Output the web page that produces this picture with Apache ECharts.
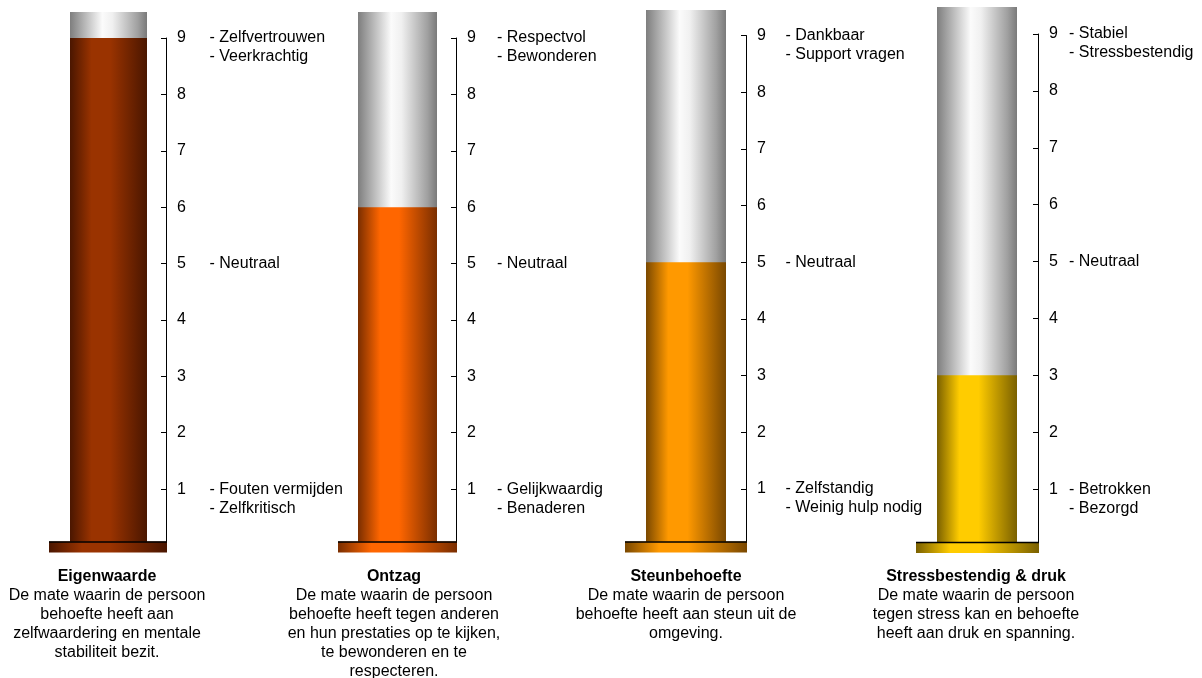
<!DOCTYPE html>
<html>
<head>
<meta charset="utf-8">
<script src="https://cdn.jsdelivr.net/npm/echarts@6/dist/echarts.min.js"></script>
<style>
html,body{margin:0;padding:0;background:#fff;}
#chart{width:1202px;height:678px;}
</style>
</head>
<body>
<div id="chart"></div>
<script>
// ---- data ----
const categories = ['Eigenwaarde', 'Ontzag', 'Steunbehoefte', 'Stressbestendig & druk'];
const scores = [9, 6, 5, 3];
const scaleMin = 0;
const scaleMax = 9;
const labelTicks = [9, 5, 1];
const highLabels = [
  ['Zelfvertrouwen', 'Veerkrachtig'],
  ['Respectvol', 'Bewonderen'],
  ['Dankbaar', 'Support vragen'],
  ['Stabiel', 'Stressbestendig']
];
const midLabels = [['Neutraal'], ['Neutraal'], ['Neutraal'], ['Neutraal']];
const lowLabels = [
  ['Fouten vermijden', 'Zelfkritisch'],
  ['Gelijkwaardig', 'Benaderen'],
  ['Zelfstandig', 'Weinig hulp nodig'],
  ['Betrokken', 'Bezorgd']
];
const descriptions = [
  ['De mate waarin de persoon', 'behoefte heeft aan', 'zelfwaardering en mentale', 'stabiliteit bezit.'],
  ['De mate waarin de persoon', 'behoefte heeft tegen anderen', 'en hun prestaties op te kijken,', 'te bewonderen en te', 'respecteren.'],
  ['De mate waarin de persoon', 'behoefte heeft aan steun uit de', 'omgeving.'],
  ['De mate waarin de persoon', 'tegen stress kan en behoefte', 'heeft aan druk en spanning.']
];

// ---- styling / layout ----
const FONT = "'Liberation Sans', Arial, sans-serif";
const palette = [
  { bright: '#9a3300', dark: '#4a1600' },
  { bright: '#ff6600', dark: '#7a2e00' },
  { bright: '#ff9900', dark: '#7a4800' },
  { bright: '#ffcc00', dark: '#7a6000' }
];
const layout = [
  { tubeL: 70,  tubeW: 77, tubeTop: 12, axisX: 166,  y9: 38,   zeroY: 545.5, baseL: 49,  baseR: 167,  labelX: 209.5, textCX: 107 },
  { tubeL: 358, tubeW: 79, tubeTop: 12, axisX: 456,  y9: 38,   zeroY: 545.5, baseL: 338, baseR: 457,  labelX: 497,   textCX: 394 },
  { tubeL: 646, tubeW: 80, tubeTop: 10, axisX: 746,  y9: 35.5, zeroY: 545.5, baseL: 625, baseR: 747,  labelX: 785.5, textCX: 686 },
  { tubeL: 937, tubeW: 80, tubeTop: 7,  axisX: 1038, y9: 34,   zeroY: 546,   baseL: 916, baseR: 1039, labelX: 1069,  textCX: 976 }
];

function hGrad(bright, dark) {
  return {
    type: 'linear', x: 0, y: 0, x2: 1, y2: 0,
    colorStops: [
      { offset: 0, color: dark },
      { offset: 0.28, color: bright },
      { offset: 0.52, color: bright },
      { offset: 1, color: dark }
    ]
  };
}
const grayGrad = {
  type: 'linear', x: 0, y: 0, x2: 1, y2: 0,
  colorStops: [
    { offset: 0, color: '#7e7e7e' },
    { offset: 0.42, color: '#fbfbfb' },
    { offset: 0.55, color: '#f0f0f0' },
    { offset: 0.88, color: '#a0a0a0' },
    { offset: 1, color: '#7a7a7a' }
  ]
};

const grid = [], xAxis = [], yAxis = [], series = [], title = [];
categories.forEach((cat, i) => {
  const L = layout[i];
  const barMax = scaleMax * (L.zeroY - L.tubeTop) / (L.zeroY - L.y9);
  // bar grid
  grid.push({ left: L.tubeL, width: L.tubeW, top: L.tubeTop, height: L.zeroY - L.tubeTop });
  xAxis.push({ type: 'category', gridIndex: 2 * i, data: [cat], show: false });
  yAxis.push({ type: 'value', gridIndex: 2 * i, min: scaleMin, max: barMax, show: false });
  series.push({
    type: 'bar', xAxisIndex: 2 * i, yAxisIndex: 2 * i,
    data: [scores[i]], barWidth: '100%',
    showBackground: true,
    backgroundStyle: { color: grayGrad },
    itemStyle: { color: hGrad(palette[i].bright, palette[i].dark) },
    silent: true, animation: false
  });
  // axis grid
  grid.push({ left: L.axisX, width: 120, top: L.y9, height: L.zeroY - L.y9 });
  xAxis.push({ type: 'category', gridIndex: 2 * i + 1, data: [cat], show: false });
  yAxis.push({
    type: 'value', gridIndex: 2 * i + 1, position: 'left',
    min: scaleMin, max: scaleMax, interval: 1,
    axisLine: { show: true, lineStyle: { color: '#000', width: 1 } },
    axisTick: { show: true, inside: false, length: 5, lineStyle: { color: '#000', width: 1 } },
    axisLabel: {
      inside: true, margin: 11, fontSize: 16, color: '#000', fontFamily: FONT,
      formatter: v => (v === 0 ? '' : String(v))
    },
    splitLine: { show: false }
  });
  // text below
  title.push({
    text: cat,
    subtext: descriptions[i].join('\n'),
    left: L.textCX, top: 567, textAlign: 'center',
    padding: 0, itemGap: 0,
    textStyle: { fontSize: 16, fontWeight: 'bold', color: '#000', fontFamily: FONT, lineHeight: 19 },
    subtextStyle: { fontSize: 16, color: '#000', fontFamily: FONT, lineHeight: 19 }
  });
});

const chart = echarts.init(document.getElementById('chart'), null, { renderer: 'canvas' });
chart.setOption({ animation: false, backgroundColor: '#fff', grid, xAxis, yAxis, series, title });

// side labels and bases positioned through the axes
const graphics = [];
categories.forEach((cat, i) => {
  const L = layout[i];
  const axisIdx = 2 * i + 1;
  const groups = [highLabels[i], midLabels[i], lowLabels[i]];
  labelTicks.forEach((v, k) => {
    const py = chart.convertToPixel({ yAxisIndex: axisIdx }, v);
    graphics.push({
      type: 'text', x: L.labelX, y: py - 9.5, z: 100,
      style: {
        text: groups[k].map(s => '- ' + s).join('\n'),
        fontSize: 16, fontFamily: FONT, fill: '#000',
        lineHeight: 19, align: 'left', verticalAlign: 'top'
      }
    });
  });
  const zy = chart.convertToPixel({ yAxisIndex: axisIdx }, scaleMin);
  graphics.push({
    type: 'rect', z: 100,
    shape: { x: L.baseL, y: zy - 4, width: L.baseR - L.baseL, height: 11 },
    style: { fill: hGrad(palette[i].bright, palette[i].dark) }
  });
  graphics.push({
    type: 'line', z: 101,
    shape: { x1: L.baseL, y1: zy - 3.5, x2: L.baseR, y2: zy - 3.5 },
    style: { stroke: '#000', lineWidth: 1.5 }
  });
});
chart.setOption({ graphic: graphics });
</script>
</body>
</html>
